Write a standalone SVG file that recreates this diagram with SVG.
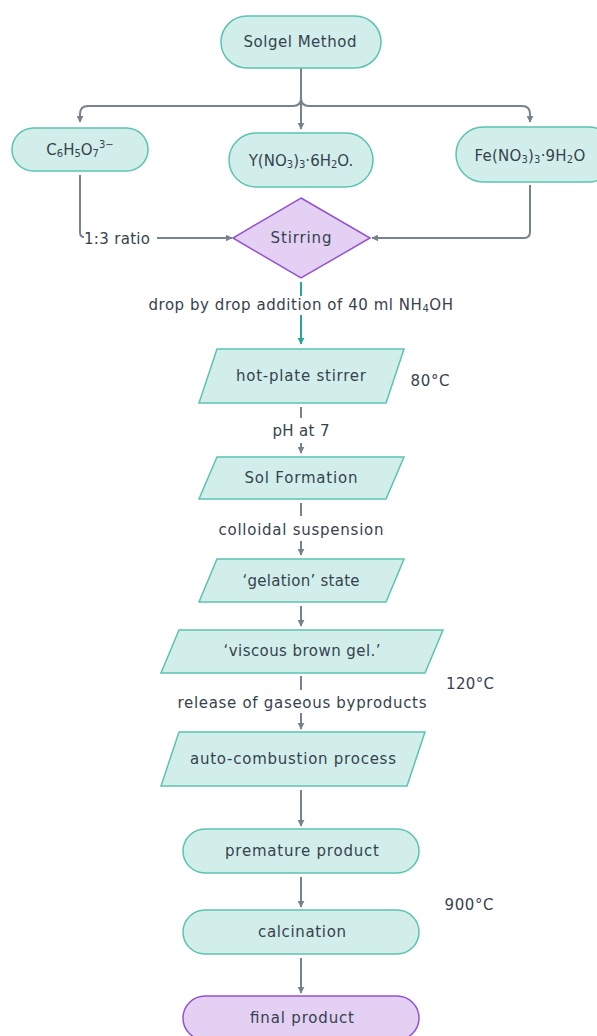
<svg xmlns="http://www.w3.org/2000/svg" width="597" height="1036" viewBox="0 0 597 1036">
<defs>
<marker id="ag" viewBox="0 0 10 10" refX="9" refY="5" markerWidth="7" markerHeight="7" markerUnits="userSpaceOnUse" orient="auto"><path d="M0,0 L10,5 L0,10 z" fill="#76828e"/></marker>
<marker id="at" viewBox="0 0 10 10" refX="9" refY="5" markerWidth="7" markerHeight="7" markerUnits="userSpaceOnUse" orient="auto"><path d="M0,0 L10,5 L0,10 z" fill="#2aa596"/></marker>
</defs>
<style>
.t{fill:#d2eeeb;stroke:#5cc2b4;stroke-width:1.5}
.p{fill:#e3d0f3;stroke:#9552cf;stroke-width:1.5}
.c{fill:none;stroke:#76828e;stroke-width:2}
.ct{fill:none;stroke:#2aa596;stroke-width:2}
text{font-family:"DejaVu Sans",sans-serif;font-size:15px;fill:#36424d;text-anchor:middle;dominant-baseline:central}
.s{font-size:10px}
</style>
<rect width="597" height="1036" fill="#ffffff"/>
<g id="connectors">
<path class="c" d="M301,68 V98 Q301,106 293,106 H88 Q80,106 80,114 V122" marker-end="url(#ag)"/>
<path class="c" d="M301,98 Q301,106 309,106 H522 Q530,106 530,114 V122" marker-end="url(#ag)"/>
<path class="c" d="M301,98 V129" marker-end="url(#ag)"/>
<path class="c" d="M80,175 V232 Q80,237 84,237"/>
<path class="c" d="M157,238 H232" marker-end="url(#ag)"/>
<path class="c" d="M530,185 V232 Q530,238 524,238 H372" marker-end="url(#ag)"/>
<path class="ct" d="M301,282 V296"/>
<path class="ct" d="M301,315 V344" marker-end="url(#at)"/>
<path class="c" d="M301,407 V418"/>
<path class="c" d="M301,443 V453" marker-end="url(#ag)"/>
<path class="c" d="M301,503 V516"/>
<path class="c" d="M301,541 V555" marker-end="url(#ag)"/>
<path class="c" d="M301,606 V626" marker-end="url(#ag)"/>
<path class="c" d="M301,676 V690"/>
<path class="c" d="M301,713 V729" marker-end="url(#ag)"/>
<path class="c" d="M301,790 V826" marker-end="url(#ag)"/>
<path class="c" d="M301,877 V907" marker-end="url(#ag)"/>
<path class="c" d="M301,958 V993" marker-end="url(#ag)"/>
<text x="117" y="239" textLength="66" lengthAdjust="spacing">1:3 ratio</text>
<text x="301" y="305" letter-spacing="0.55">drop by drop addition of 40 ml NH<tspan class="s" dy="3">4</tspan><tspan dy="-3">OH</tspan></text>
<text x="301" y="431" textLength="57" lengthAdjust="spacing">pH at 7</text>
<text x="301" y="530" textLength="165" lengthAdjust="spacing">colloidal suspension</text>
<text x="302" y="703" textLength="249" lengthAdjust="spacing">release of gaseous byproducts</text>
<text x="430" y="381" textLength="39" lengthAdjust="spacing">80°C</text>
<text x="470" y="684" textLength="48" lengthAdjust="spacing">120°C</text>
<text x="469" y="905" textLength="49" lengthAdjust="spacing">900°C</text>
</g>
<g id="solgel"><rect class="t" x="221" y="16" width="160" height="52" rx="26"/><text x="300" y="42" textLength="113" lengthAdjust="spacing">Solgel Method</text></g>
<g id="citrate"><rect class="t" x="12" y="128" width="136" height="43" rx="21.5"/><text x="80" y="150">C<tspan class="s" dy="3">6</tspan><tspan dy="-3">H</tspan><tspan class="s" dy="3">5</tspan><tspan dy="-3">O</tspan><tspan class="s" dy="3">7</tspan><tspan class="s" dy="-9">3−</tspan></text></g>
<g id="yttrium"><rect class="t" x="229" y="133" width="144" height="54" rx="27"/><text x="301" y="161">Y(NO<tspan class="s" dy="3">3</tspan><tspan dy="-3">)</tspan><tspan class="s" dy="3">3</tspan><tspan dy="-3">·6H</tspan><tspan class="s" dy="3">2</tspan><tspan dy="-3">O.</tspan></text></g>
<g id="iron"><rect class="t" x="456" y="127" width="160" height="55" rx="27.5"/><text x="530" y="156" letter-spacing="0.2">Fe(NO<tspan class="s" dy="3">3</tspan><tspan dy="-3">)</tspan><tspan class="s" dy="3">3</tspan><tspan dy="-3">·9H</tspan><tspan class="s" dy="3">2</tspan><tspan dy="-3">O</tspan></text></g>
<g id="stirring"><polygon class="p" points="301,198 370,238 301,278 233,238"/><text x="301" y="238" textLength="61" lengthAdjust="spacing">Stirring</text></g>
<g id="hotplate"><polygon class="t" points="217,349 404,349 386,403 199,403"/><text x="301" y="376" textLength="130" lengthAdjust="spacing">hot-plate stirrer</text></g>
<g id="sol"><polygon class="t" points="217,457 404,457 386,499 199,499"/><text x="301" y="478" textLength="113" lengthAdjust="spacing">Sol Formation</text></g>
<g id="gelation"><polygon class="t" points="217,559 404,559 386,602 199,602"/><text x="301" y="581" textLength="117" lengthAdjust="spacing">‘gelation’ state</text></g>
<g id="gel"><polygon class="t" points="179,630 443,630 425,673 161,673"/><text x="302" y="651" textLength="157" lengthAdjust="spacing">‘viscous brown gel.’</text></g>
<g id="combustion"><polygon class="t" points="179,732 425,732 407,786 161,786"/><text x="293" y="759" textLength="206" lengthAdjust="spacing">auto-combustion process</text></g>
<g id="premature"><rect class="t" x="183" y="829" width="236" height="44" rx="22"/><text x="302" y="851" textLength="154" lengthAdjust="spacing">premature product</text></g>
<g id="calcination"><rect class="t" x="183" y="910" width="236" height="44" rx="22"/><text x="302" y="932" textLength="88" lengthAdjust="spacing">calcination</text></g>
<g id="final"><rect class="p" x="183" y="996" width="236" height="44" rx="22"/><text x="302" y="1018" textLength="104" lengthAdjust="spacing">final product</text></g>
</svg>
